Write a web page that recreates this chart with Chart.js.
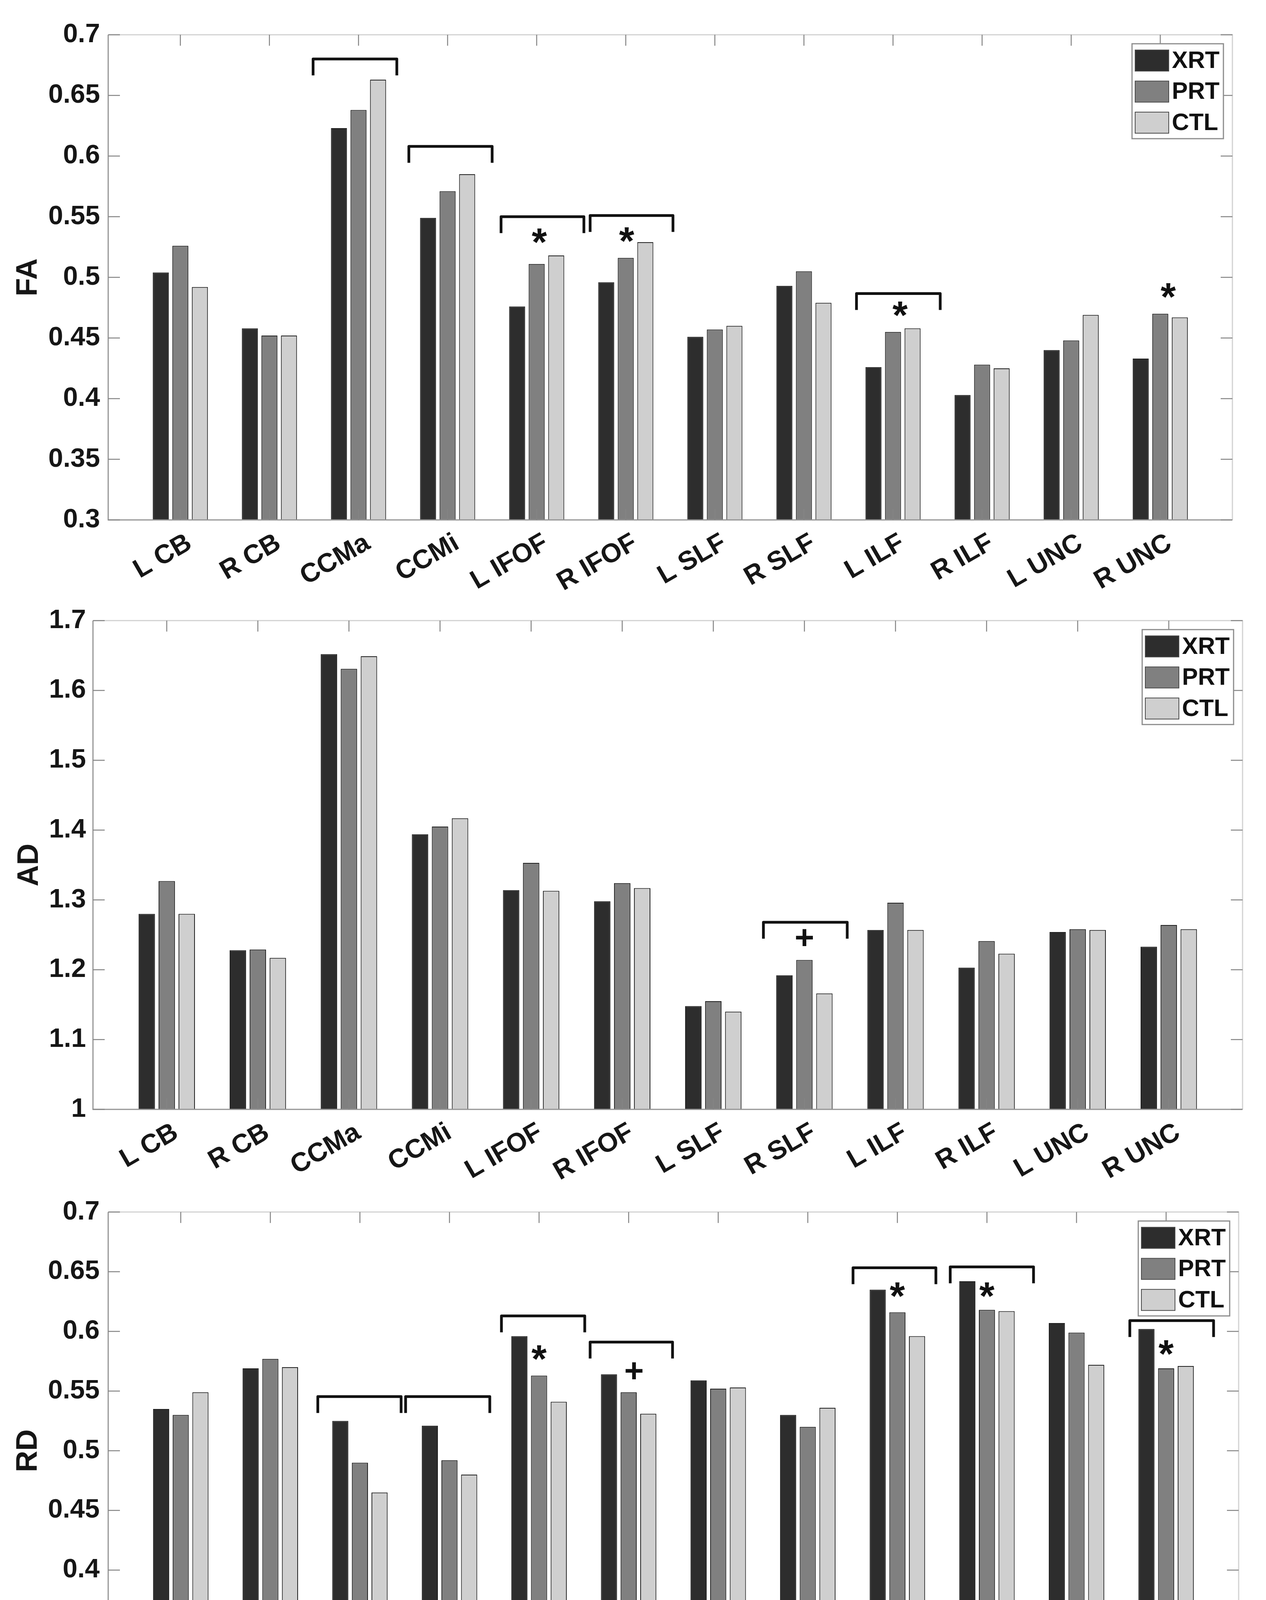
<!DOCTYPE html>
<html>
<head>
<meta charset="utf-8">
<script src="https://cdn.jsdelivr.net/npm/chart.js@4.4.0/dist/chart.umd.min.js"></script>
<style>
html,body{margin:0;padding:0;background:#fff;}
#wrap{position:relative;width:3241px;height:4539px;background:#fff;overflow:hidden;}
.panel{position:absolute;left:0;width:3241px;}
.panel canvas{display:block;}
</style>
</head>
<body>
<div id="wrap">
  <div class="panel" style="top:0px;height:1580px;"><canvas id="c1"></canvas></div>
  <div class="panel" style="top:1530px;height:1540px;"><canvas id="c2"></canvas></div>
  <div class="panel" style="top:3040px;height:1499px;"><canvas id="c3"></canvas></div>
</div>
<script>
// ---------- data ----------
const categories = ['L CB','R CB','CCMa','CCMi','L IFOF','R IFOF','L SLF','R SLF','L ILF','R ILF','L UNC','R UNC'];
const seriesNames = ['XRT','PRT','CTL'];

const FA_XRT = [0.504,0.458,0.623,0.549,0.476,0.496,0.451,0.493,0.426,0.403,0.440,0.433];
const FA_PRT = [0.526,0.452,0.638,0.571,0.511,0.516,0.457,0.505,0.455,0.428,0.448,0.470];
const FA_CTL = [0.492,0.452,0.663,0.585,0.518,0.529,0.460,0.479,0.458,0.425,0.469,0.467];

const AD_XRT = [1.280,1.228,1.652,1.394,1.314,1.298,1.148,1.192,1.257,1.203,1.254,1.233];
const AD_PRT = [1.327,1.229,1.631,1.405,1.353,1.324,1.155,1.214,1.296,1.241,1.258,1.264];
const AD_CTL = [1.280,1.217,1.649,1.417,1.313,1.317,1.140,1.166,1.257,1.223,1.257,1.258];

const RD_XRT = [0.535,0.569,0.525,0.521,0.596,0.564,0.559,0.530,0.635,0.642,0.607,0.602];
const RD_PRT = [0.530,0.577,0.490,0.492,0.563,0.549,0.552,0.520,0.616,0.618,0.599,0.569];
const RD_CTL = [0.549,0.570,0.465,0.480,0.541,0.531,0.553,0.536,0.596,0.617,0.572,0.571];

const FA_TICKS = [0.3,0.35,0.4,0.45,0.5,0.55,0.6,0.65,0.7];
const AD_TICKS = [1,1.1,1.2,1.3,1.4,1.5,1.6,1.7];
const RD_TICKS = [0.3,0.35,0.4,0.45,0.5,0.55,0.6,0.65,0.7];

// significance brackets: [x from, x to, y of bar]  (x in category-position units, y in data units)
const FA_BRACKETS = [[2.49,3.43,0.680],[3.565,4.50,0.608],[4.60,5.53,0.550],[5.60,6.53,0.551],[8.59,9.53,0.4866]];
const FA_MARKS = [['*',5.03,0.534],['*',6.01,0.535],['*',9.08,0.474],['*',12.09,0.489]];
const AD_BRACKETS = [[7.55,8.47,1.268]];
const AD_MARKS = [['+',8.0,1.246]];
const RD_BRACKETS = [[2.53,3.46,0.5454],[3.51,4.45,0.5454],[4.58,5.51,0.613],[5.57,6.49,0.591],[8.505,9.43,0.6533],[9.59,10.52,0.654],[11.595,12.53,0.609]];
const RD_MARKS = [['*',5.0,0.582],['+',6.06,0.567],['*',9.0,0.6347],['*',10.0,0.6347],['*',12.0,0.5865]];

// ---------- styles ----------
const COLORS = ['#2d2d2d','#808080','#cfcfcf'];
const FONT = '"Liberation Sans", Arial, Helvetica, sans-serif';
const TXT = '#161616';

function fmt(v){ return String(Number(v.toFixed(2))); }

function framePlugin(){
  return {
    id:'frame',
    afterDatasetsDraw(chart){
      const {ctx, chartArea:a, scales:{x,y}} = chart;
      ctx.save();
      ctx.lineCap='butt';
      ctx.lineWidth=3;
      ctx.strokeStyle='#d2d2d2';
      ctx.beginPath(); ctx.moveTo(a.left,a.top); ctx.lineTo(a.right,a.top); ctx.lineTo(a.right,a.bottom); ctx.stroke();
      ctx.strokeStyle='#949494';
      ctx.beginPath(); ctx.moveTo(a.left,a.top); ctx.lineTo(a.left,a.bottom); ctx.lineTo(a.right,a.bottom); ctx.stroke();
      ctx.lineWidth=2.5; ctx.strokeStyle='#848484';
      const seg=(x1,y1,x2,y2)=>{ctx.beginPath();ctx.moveTo(x1,y1);ctx.lineTo(x2,y2);ctx.stroke();};
      y.ticks.forEach(t=>{ const py=y.getPixelForValue(t.value); seg(a.left,py,a.left+30,py); seg(a.right-30,py,a.right,py); });
      x.ticks.forEach(t=>{ const px=x.getPixelForValue(t.value); seg(px,a.top,px,a.top+28); seg(px,a.bottom-28,px,a.bottom); });
      ctx.restore();
    }
  };
}

function bracketPlugin(brackets, marks){
  return {
    id:'brackets',
    afterDatasetsDraw(chart){
      const {ctx, scales:{x,y}} = chart;
      ctx.save();
      ctx.strokeStyle='#111'; ctx.lineWidth=7; ctx.lineJoin='round'; ctx.lineCap='butt';
      brackets.forEach(b=>{
        const x0=x.getPixelForValue(b[0]), x1=x.getPixelForValue(b[1]), yt=y.getPixelForValue(b[2]);
        ctx.beginPath(); ctx.moveTo(x0,yt+42); ctx.lineTo(x0,yt); ctx.lineTo(x1,yt); ctx.lineTo(x1,yt+42); ctx.stroke();
      });
      ctx.fillStyle='#111'; ctx.textAlign='left'; ctx.textBaseline='alphabetic';
      marks.forEach(m=>{
        const size = m[0]==='*' ? 100 : 86;
        ctx.font = 'bold '+size+'px '+FONT;
        const mt = ctx.measureText(m[0]);
        const px=x.getPixelForValue(m[1]), py=y.getPixelForValue(m[2]);
        const tx = px - (mt.actualBoundingBoxRight - mt.actualBoundingBoxLeft)/2;
        const ty = py + (mt.actualBoundingBoxAscent - mt.actualBoundingBoxDescent)/2;
        ctx.fillText(m[0], tx, ty);
      });
      ctx.restore();
    }
  };
}

function legendPlugin(){
  return {
    id:'boxLegend',
    afterDraw(chart){
      const {ctx, chartArea:a} = chart;
      const W=234, H=243;
      const x0=a.right-23-W, y0=a.top+23;
      ctx.save();
      ctx.fillStyle='#fff'; ctx.fillRect(x0,y0,W,H);
      ctx.strokeStyle='#8c8c8c'; ctx.lineWidth=3; ctx.strokeRect(x0,y0,W,H);
      chart.data.datasets.forEach((ds,k)=>{
        const sy=y0+16+k*79.5;
        ctx.fillStyle=ds.backgroundColor; ctx.fillRect(x0+8,sy,86,54);
        ctx.strokeStyle='#4a4a4a'; ctx.lineWidth=2; ctx.strokeRect(x0+8,sy,86,54);
        ctx.fillStyle='#111'; ctx.font='bold 61px '+FONT; ctx.textBaseline='middle'; ctx.textAlign='left';
        ctx.fillText(ds.label, x0+102, sy+29);
      });
      ctx.restore();
    }
  };
}

function makePanel(id, p){
  const valueSets = p.values;
  return new Chart(document.getElementById(id), {
    type:'bar',
    data:{
      datasets: seriesNames.map((name,k)=>({
        label:name,
        data: valueSets[k].map((v,i)=>({x:i+1, y:v})),
        backgroundColor: COLORS[k],
        borderColor:'#1e1e1e',
        borderWidth:2,
        borderSkipped:'bottom',
        base:p.min,
        categoryPercentage:0.658,
        barPercentage:0.82
      }))
    },
    options:{
      responsive:true, maintainAspectRatio:false, animation:false, devicePixelRatio:1,
      layout:{padding:{top:p.padTop, right:p.padRight, left:0, bottom:0}},
      plugins:{legend:{display:false}, tooltip:{enabled:false}},
      scales:{
        x:{
          type:'linear', min:0.19, max:12.81, offset:false,
          grid:{display:false, drawTicks:false}, border:{display:false},
          afterBuildTicks:(ax)=>{ ax.ticks = categories.map((c,i)=>({value:i+1})); },
          ticks:{autoSkip:false, minRotation:30, maxRotation:30, padding:p.xPad, labelOffset:24,
                 color:TXT, font:{family:FONT, size:68, weight:'bold'},
                 callback:(v,i)=>categories[i]},
          afterFit:(s)=>{ s.height=p.xAxisH; }
        },
        y:{
          min:p.min, max:p.max,
          grid:{display:false, drawTicks:false}, border:{display:false},
          afterBuildTicks:(ax)=>{ ax.ticks = p.ticks.map(v=>({value:v})); },
          ticks:{padding:p.yPad, color:TXT, font:{family:FONT, size:68, weight:'bold'}, callback:(v)=>fmt(v)},
          title:{display:true, text:p.title, color:TXT, font:{family:FONT, size:76, weight:'bold'}, padding:{top:p.titlePad, bottom:0}},
          afterFit:(s)=>{ s.width=p.left; }
        }
      }
    },
    plugins:[framePlugin(), bracketPlugin(p.brackets, p.marks), legendPlugin()]
  });
}

makePanel('c1', {values:[FA_XRT,FA_PRT,FA_CTL], min:0.3, max:0.7, ticks:FA_TICKS, title:'FA',
  padTop:89, padRight:86, left:277, xAxisH:1580-1331, xPad:19, yPad:21, titlePad:27,
  brackets:FA_BRACKETS, marks:FA_MARKS});
makePanel('c2', {values:[AD_XRT,AD_PRT,AD_CTL], min:1.0, max:1.7, ticks:AD_TICKS, title:'AD',
  padTop:57, padRight:60, left:238, xAxisH:1540-1310, xPad:19, yPad:18, titlePad:30,
  brackets:AD_BRACKETS, marks:AD_MARKS});
makePanel('c3', {values:[RD_XRT,RD_PRT,RD_CTL], min:0.3, max:0.7, ticks:RD_TICKS, title:'RD',
  padTop:48, padRight:70, left:277, xAxisH:1499-1285, xPad:19, yPad:22, titlePad:27,
  brackets:RD_BRACKETS, marks:RD_MARKS});
</script>
</body>
</html>
